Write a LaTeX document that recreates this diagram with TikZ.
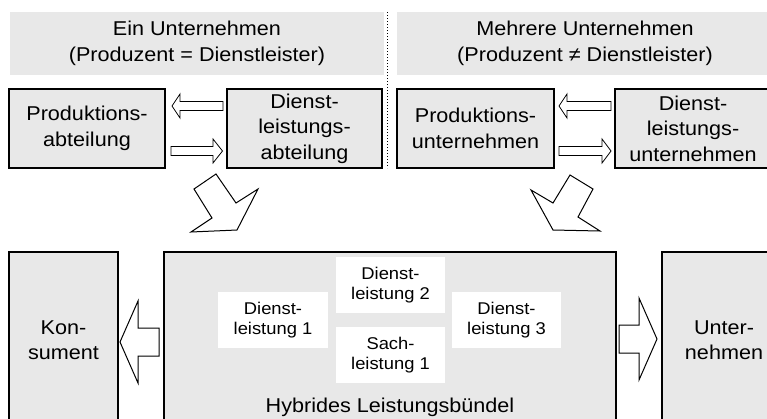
\documentclass[tikz,border=0pt]{standalone}
\usepackage{fontspec}
\setmainfont{Liberation Sans}[FakeStretch=1.08]
\usetikzlibrary{calc}
\definecolor{boxgray}{HTML}{E8E8E8}
\newcommand\bigf{\fontsize{20}{25.5}\selectfont}
\newcommand\smallf{\fontsize{17}{20}\selectfont}
\tikzset{
  hdr/.style={fill=boxgray, draw=none, minimum height=63pt, font=\bigf, align=center, inner sep=0pt, outer sep=0pt},
  topbox/.style={draw=black, line width=1.2pt, fill=boxgray, minimum height=79pt, align=center, font=\bigf, inner sep=0pt, outer sep=0pt},
  botbox/.style={draw=black, line width=1.2pt, fill=boxgray, minimum height=176pt, align=center, font=\bigf, inner sep=0pt, outer sep=0pt},
  wbox/.style={fill=white, draw=none, minimum width=109.5pt, minimum height=56pt, align=center, font=\smallf, inner sep=0pt},
  sarrow/.style={draw=black, fill=white, line width=0.8pt, line join=miter},
  barrow/.style={draw=black, fill=white, line width=1pt, line join=miter},
  sepline/.style={dotted, line width=1pt}
}
\begin{document}
\begin{tikzpicture}[x=1pt,y=-1pt]
\useasboundingbox (0,0) rectangle (767,418);
% headers
\node[hdr, minimum width=374pt] (h1) at (197,43.5) {Ein Unternehmen\\(Produzent = Dienstleister)};
\node[hdr, minimum width=376pt] (h2) at (585,43.5) {Mehrere Unternehmen\\(Produzent ≠ Dienstleister)};
\coordinate (st) at (387,12);
\coordinate (sb) at (387,168);
\draw[sepline] (st) -- (sb);
% top boxes
\node[topbox, minimum width=156pt] (pa) at (87,128.5) {Produktions-\\abteilung};
\node[topbox, minimum width=155pt] (da) at (304.5,128.5) {Dienst-\\leistungs-\\abteilung};
\node[topbox, minimum width=157pt] (pu) at (475.5,128.5) {Produktions-\\unternehmen};
\node[topbox, minimum width=156pt] (du) at (693,128.5) {Dienst-\\leistungs-\\unternehmen};
% small arrows
\draw[sarrow] (223,101.5) -- (180,101.5) -- (180,94) -- (172,106) -- (180,118) -- (180,110.5) -- (223,110.5) -- cycle;
\draw[sarrow] (171,146.5) -- (213,146.5) -- (213,139) -- (222.5,151) -- (213,163) -- (213,155.5) -- (171,155.5) -- cycle;
\draw[sarrow] (611,101.5) -- (567,101.5) -- (567,94) -- (559,106) -- (567,118) -- (567,110.5) -- (611,110.5) -- cycle;
\draw[sarrow] (559,146.5) -- (602,146.5) -- (602,139) -- (611,151) -- (602,163) -- (602,155.5) -- (559,155.5) -- cycle;
% diagonal arrows
\draw[barrow] (194,189) -- (216,174) -- (236,203) -- (258,189) -- (237,230) -- (191,232) -- (212,218) -- cycle;
\draw[barrow] (531,190) -- (553,203) -- (570,175) -- (593,189) -- (578,217) -- (600,231) -- (553,230) -- cycle;
% bottom boxes
\node[botbox, minimum width=109pt] (ko) at (63.5,340) {Kon-\\sument};
\node[botbox, minimum width=452pt] (hy) at (390,340) {};
\node[botbox, minimum width=124pt] (un) at (724,340) {Unter-\\nehmen};
\node[wbox] (d1) at (273,320) {Dienst-\\leistung 1};
\node[wbox] (d2) at (390.5,285) {Dienst-\\leistung 2};
\node[wbox] (s1) at (390.5,355) {Sach-\\leistung 1};
\node[wbox] (d3) at (506.5,320) {Dienst-\\leistung 3};
\node[font=\bigf, anchor=base, inner sep=0pt] (hl) at (390,412) {Hybrides Leistungsbündel};
% big horizontal arrows
\draw[barrow] (159,328) -- (138,328) -- (138,301) -- (120,342) -- (138,383) -- (138,356) -- (159,356) -- cycle;
\draw[barrow] (619,325) -- (639,325) -- (639,298) -- (657,339) -- (639,380) -- (639,353) -- (619,353) -- cycle;
\end{tikzpicture}
\end{document}
